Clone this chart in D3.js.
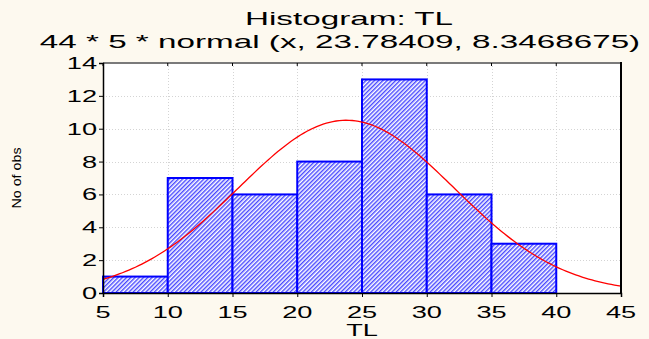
<!DOCTYPE html>
<html>
<head>
<meta charset="utf-8">
<script src="https://cdn.jsdelivr.net/npm/d3@7/dist/d3.min.js"></script>
<style>
  html, body { margin: 0; padding: 0; background: #fdf9ef; }
  svg { display: block; }
  text { font-family: "Liberation Sans", Arial, sans-serif; fill: #000; }
</style>
</head>
<body>
<svg id="chart" width="649" height="339"></svg>
<script>
// ---- data ----
const binStarts = [5, 10, 15, 20, 25, 30, 35];
const binEnds   = [10, 15, 20, 25, 30, 35, 40];
const counts    = [1, 7, 6, 8, 13, 6, 3];
const xTicks = [5, 10, 15, 20, 25, 30, 35, 40, 45];
const yTicks = [0, 2, 4, 6, 8, 10, 12, 14];
const titleLines = ["Histogram: TL", "44 * 5 * normal (x, 23.78409, 8.3468675)"];
const xLabel = "TL";
const yLabel = "No of obs";
// fitted normal curve parameters (from the chart title)
const fitN = 44, fitBinWidth = 5, fitMean = 23.78409, fitSd = 8.3468675;

// ---- layout ----
const W = 649, H = 339;
const plot = { left: 103, right: 621, top: 63, bottom: 293 };
const sx = 1.6; // horizontal text stretch for tick labels

const svg = d3.select("#chart");
svg.append("rect").attr("width", W).attr("height", H).attr("fill", "#fdf9ef");

const x = d3.scaleLinear().domain([5, 45]).range([plot.left, plot.right]);
const y = d3.scaleLinear().domain([0, 14]).range([plot.bottom, plot.top]);

// hatch pattern
const defs = svg.append("defs");
const pat = defs.append("pattern")
  .attr("id", "hatch").attr("patternUnits", "userSpaceOnUse")
  .attr("width", 3).attr("height", 3)
  .attr("patternTransform", "rotate(45)");
pat.append("rect").attr("width", 3).attr("height", 3).attr("fill", "#ffffff");
pat.append("line").attr("x1", 0.75).attr("y1", 0).attr("x2", 0.75).attr("y2", 3)
  .attr("stroke", "#3535ff").attr("stroke-width", 1.3);

// plot background
svg.append("rect").attr("x", plot.left).attr("y", plot.top)
  .attr("width", plot.right - plot.left).attr("height", plot.bottom - plot.top)
  .attr("fill", "#ffffff");

// gridlines
const grid = svg.append("g").attr("stroke", "#d4d4d4").attr("stroke-width", 1)
  .attr("stroke-dasharray", "1,2");
grid.selectAll(".hg").data(yTicks.slice(1, -1)).join("line")
  .attr("x1", plot.left).attr("x2", plot.right)
  .attr("y1", d => Math.round(y(d)) + 0.5).attr("y2", d => Math.round(y(d)) + 0.5);
grid.selectAll(".vg").data(xTicks.slice(1, -1)).join("line")
  .attr("y1", plot.top).attr("y2", plot.bottom)
  .attr("x1", d => Math.round(x(d)) + 0.5).attr("x2", d => Math.round(x(d)) + 0.5);

// bars
svg.append("g").selectAll("rect").data(counts).join("rect")
  .attr("x", (d, i) => x(binStarts[i]))
  .attr("width", (d, i) => x(binEnds[i]) - x(binStarts[i]))
  .attr("y", d => y(d))
  .attr("height", d => y(0) - y(d))
  .attr("fill", "url(#hatch)")
  .attr("stroke", "#0000ff").attr("stroke-width", 2);

// normal curve
const curveX = d3.range(5, 45.001, 0.25);
const pdf = v => fitN * fitBinWidth * Math.exp(-0.5 * ((v - fitMean) / fitSd) ** 2) / (fitSd * Math.sqrt(2 * Math.PI));
svg.append("path")
  .datum(curveX)
  .attr("fill", "none").attr("stroke", "#ff0000").attr("stroke-width", 1.3)
  .attr("d", d3.line().x(d => x(d)).y(d => y(pdf(d))));

// frame
svg.append("line").attr("x1", plot.left).attr("x2", plot.right)
  .attr("y1", plot.top).attr("y2", plot.top).attr("stroke", "#7a7a7a").attr("stroke-width", 2);
svg.append("line").attr("x1", plot.right).attr("x2", plot.right)
  .attr("y1", plot.top - 1).attr("y2", plot.bottom + 1).attr("stroke", "#000").attr("stroke-width", 2);

// axes
const xAxis = d3.axisBottom(x).tickValues(xTicks).tickSize(4).tickFormat("");
const yAxis = d3.axisLeft(y).tickValues(yTicks).tickSize(4).tickFormat("");
const gx = svg.append("g").attr("transform", `translate(0,${plot.bottom})`).call(xAxis);
const gy = svg.append("g").attr("transform", `translate(${plot.left},0)`).call(yAxis);
[gx, gy].forEach(g => {
  g.selectAll("path").attr("stroke", "#000").attr("stroke-width", 1.5);
  g.selectAll("line").attr("stroke", "#000");
});
// top inner ticks
svg.append("g").selectAll("line").data(xTicks).join("line")
  .attr("x1", d => x(d)).attr("x2", d => x(d))
  .attr("y1", plot.top).attr("y2", plot.top + 3).attr("stroke", "#000");

// stretched text helper
function stext(g, txt, tx, ty, size, anchor, scale) {
  return g.append("text")
    .attr("transform", `translate(${tx},${ty}) scale(${scale},1)`)
    .attr("text-anchor", anchor)
    .style("font-size", size + "px")
    .text(txt);
}

// tick labels
xTicks.forEach(t => stext(svg, String(t), x(t), 318, 17, "middle", sx));
yTicks.forEach(t => stext(svg, String(t), 97, y(t) + 6, 17, "end", sx));

// titles
stext(svg, titleLines[0], 349, 25, 19, "middle", 1.75);
stext(svg, titleLines[1], 340, 48, 19, "middle", 1.75);

// axis labels
stext(svg, xLabel, 362, 336, 17, "middle", sx);
svg.append("text")
  .attr("transform", `translate(21,178) rotate(-90) scale(1.1,1)`)
  .attr("text-anchor", "middle")
  .style("font-size", "13px")
  .text(yLabel);
</script>
</body>
</html>
